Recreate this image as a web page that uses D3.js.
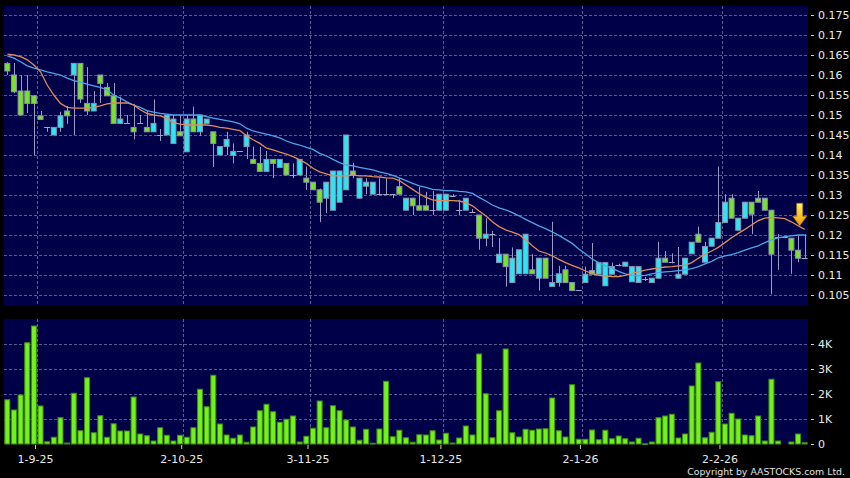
<!DOCTYPE html>
<html><head><meta charset="utf-8">
<script src="https://cdn.jsdelivr.net/npm/d3@7"></script>
<style>html,body{margin:0;padding:0;background:#000;}svg{display:block;}text{font-family:"DejaVu Sans",sans-serif;}</style>
</head><body><svg id="c" width="850" height="478"></svg>
<script>
const openP = [.1629,.1600,.1560,.1560,.1548,.1498,.1470,.1450,.1469,.1510,
 .1600,.1629,.1529,.1510,.1600,.1569,.1548,.1479,.1479,.1469,
 .1479,.1469,.1458,.1450,.1450,.1429,.1458,.1408,.1490,.1458,
 .1479,.1458,.1400,.1421,.1399,.1409,.1421,.1389,.1379,.1359,
 .1389,.1369,.1379,.1350,.1350,.1342,.1332,.1313,.1292,.1262,
 .1282,.1313,.1360,.1292,.1322,.1302,.1302,.1302,.1302,.1321,
 .1262,.1292,.1273,.1273,.1262,.1262,.1262,.1297,.1262,.1262,
 .1258,.1250,.1192,.1202,.1131,.1152,.1081,.1103,.1103,.1113,
 .1092,.1142,.1071,.1081,.1113,.1081,.1063,.1081,.1111,.1102,
 .1073,.1102,.1125,.1122,.1083,.1081,.1089,.1081,.1092,.1142,
 .1132,.1092,.1102,.1153,.1202,.1132,.1172,.1192,.1231,.1292,
 .1212,.1242,.1282,.1292,.1292,.1262,.1195,.1195,.1192,.1162,
 .1142];
const highP = [.1632,.1630,.1600,.1600,.1550,.1510,.1470,.1469,.1508,.1523,
 .1629,.1629,.1620,.1560,.1600,.1580,.1580,.1546,.1500,.1528,
 .1500,.1510,.1539,.1465,.1500,.1500,.1500,.1500,.1521,.1500,
 .1490,.1458,.1421,.1458,.1429,.1409,.1458,.1421,.1420,.1410,
 .1389,.1389,.1379,.1379,.1389,.1371,.1332,.1316,.1332,.1360,
 .1360,.1450,.1380,.1342,.1342,.1332,.1342,.1342,.1302,.1342,
 .1292,.1292,.1320,.1308,.1310,.1302,.1302,.1302,.1288,.1292,
 .1265,.1250,.1242,.1210,.1192,.1152,.1169,.1163,.1202,.1152,
 .1142,.1142,.1233,.1123,.1123,.1081,.1063,.1121,.1180,.1131,
 .1131,.1131,.1128,.1132,.1121,.1121,.1095,.1092,.1183,.1160,
 .1154,.1170,.1142,.1182,.1221,.1183,.1192,.1371,.1302,.1302,
 .1242,.1282,.1282,.1310,.1292,.1262,.1202,.1195,.1192,.1198,
 .1202];
const lowP = [.1600,.1555,.1500,.1505,.1400,.1489,.1458,.1450,.1458,.1478,
 .1450,.1530,.1500,.1510,.1530,.1548,.1479,.1479,.1479,.1439,
 .1479,.1458,.1458,.1435,.1450,.1429,.1448,.1408,.1458,.1448,
 .1479,.1370,.1400,.1400,.1379,.1409,.1390,.1379,.1359,.1359,
 .1342,.1369,.1350,.1342,.1350,.1313,.1313,.1232,.1255,.1262,
 .1282,.1313,.1342,.1292,.1302,.1302,.1302,.1302,.1292,.1302,
 .1262,.1250,.1262,.1262,.1250,.1262,.1262,.1295,.1250,.1262,
 .1255,.1163,.1172,.1170,.1131,.1071,.1081,.1103,.1103,.1103,
 .1061,.1092,.1071,.1071,.1081,.1060,.1063,.1081,.1102,.1102,
 .1073,.1102,.1122,.1122,.1083,.1081,.1085,.1081,.1092,.1132,
 .1129,.1092,.1102,.1153,.1182,.1132,.1172,.1192,.1231,.1242,
 .1212,.1242,.1202,.1282,.1262,.1052,.1113,.1195,.1103,.1132,
 .1142];
const closeP = [.1610,.1558,.1500,.1529,.1529,.1489,.1470,.1469,.1498,.1498,
 .1629,.1540,.1510,.1529,.1579,.1548,.1479,.1490,.1479,.1458,
 .1479,.1458,.1479,.1450,.1500,.1490,.1448,.1490,.1458,.1500,
 .1490,.1429,.1421,.1439,.1409,.1409,.1450,.1379,.1359,.1389,
 .1379,.1389,.1350,.1350,.1389,.1332,.1313,.1282,.1332,.1360,
 .1360,.1450,.1350,.1342,.1332,.1332,.1302,.1302,.1302,.1302,
 .1292,.1273,.1262,.1262,.1262,.1302,.1302,.1297,.1262,.1292,
 .1258,.1192,.1202,.1202,.1152,.1121,.1142,.1163,.1202,.1103,
 .1142,.1092,.1081,.1103,.1081,.1061,.1063,.1102,.1102,.1131,
 .1131,.1121,.1125,.1132,.1121,.1121,.1089,.1092,.1142,.1132,
 .1132,.1102,.1142,.1182,.1182,.1171,.1192,.1231,.1282,.1242,
 .1242,.1282,.1252,.1282,.1262,.1152,.1195,.1195,.1162,.1142,
 .1142];
const volumeK = [1.77,1.36,1.96,4.05,4.72,1.52,0.09,0.27,1.05,0.04,
 2.03,0.53,2.65,0.45,1.13,0.27,0.81,0.52,0.52,1.88,
 0.40,0.33,0.12,0.65,0.35,0.12,0.35,0.27,0.65,2.19,
 1.49,2.75,0.80,0.36,0.23,0.36,0.07,0.68,1.33,1.59,
 1.29,0.87,0.99,1.12,0.08,0.31,0.63,1.72,0.65,1.53,
 1.33,0.96,0.68,0.15,0.59,0.03,0.60,2.51,0.29,0.55,
 0.25,0.07,0.37,0.36,0.53,0.16,0.43,0.04,0.24,0.72,
 0.36,3.60,2.01,0.25,1.33,3.80,0.45,0.28,0.59,0.55,
 0.60,0.61,1.84,0.53,0.28,2.37,0.19,0.19,0.56,0.17,
 0.55,0.21,0.32,0.21,0.08,0.23,0.01,0.08,1.05,1.12,
 1.19,0.24,0.40,2.32,3.24,0.25,0.47,2.49,0.80,1.23,
 1.00,0.36,0.33,1.12,0.12,2.59,0.12,0,0.08,0.40,
 0.05];
const ma10 = [.1652,.1650,.1646,.1638,.1625,.1608,.1575,.1550,.1529,.1519,
 .1517,.1517,.1517,.1519,.1523,.1528,.1530,.1530,.1530,.1525,
 .1513,.1504,.1500,.1498,.1492,.1481,.1477,.1475,.1475,.1475,
 .1475,.1473,.1469,.1467,.1464,.1461,.1448,.1438,.1429,.1417,
 .1413,.1407,.1402,.1396,.1388,.1379,.1367,.1358,.1353,.1348,
 .1348,.1348,.1350,.1348,.1348,.1346,.1345,.1343,.1342,.1336,
 .1325,.1314,.1303,.1294,.1288,.1286,.1286,.1286,.1285,.1281,
 .1273,.1260,.1248,.1233,.1221,.1213,.1207,.1201,.1188,.1173,
 .1160,.1155,.1148,.1139,.1131,.1124,.1118,.1110,.1104,.1099,
 .1097,.1096,.1096,.1099,.1104,.1108,.1112,.1115,.1118,.1120,
 .1121,.1123,.1124,.1131,.1142,.1152,.1160,.1169,.1181,.1193,
 .1204,.1214,.1225,.1236,.1242,.1244,.1243,.1241,.1233,.1223,
 .1214];
const ma20 = [.1648,.1642,.1633,.1623,.1617,.1613,.1608,.1604,.1600,.1592,
 .1586,.1582,.1577,.1573,.1569,.1563,.1550,.1542,.1533,.1525,
 .1519,.1511,.1507,.1504,.1502,.1500,.1500,.1500,.1500,.1500,
 .1496,.1492,.1489,.1486,.1483,.1478,.1467,.1460,.1456,.1452,
 .1448,.1443,.1435,.1429,.1425,.1419,.1414,.1404,.1398,.1389,
 .1381,.1375,.1373,.1369,.1366,.1363,.1358,.1354,.1349,.1343,
 .1336,.1329,.1323,.1319,.1314,.1313,.1311,.1311,.1309,.1308,
 .1304,.1294,.1285,.1275,.1268,.1263,.1256,.1248,.1239,.1231,
 .1223,.1216,.1208,.1199,.1189,.1179,.1165,.1153,.1140,.1131,
 .1123,.1117,.1109,.1103,.1099,.1098,.1099,.1103,.1106,.1108,
 .1109,.1111,.1113,.1116,.1121,.1128,.1134,.1143,.1148,.1151,
 .1156,.1162,.1168,.1173,.1181,.1188,.1193,.1196,.1198,.1200,
 .1200];
const priceTicks = [0.105,0.11,0.115,0.12,0.125,0.13,0.135,0.14,0.145,0.15,0.155,0.16,0.165,0.17,0.175];
const volTicks = [0,1000,2000,3000,4000];
const volTickLabels = ["0","1K","2K","3K","4K"];
const dateTickIdx = [4,26,45,65,86,107];
const dateTickLabels = ["1-9-25","2-10-25","3-11-25","1-12-25","2-1-26","2-2-26"];
const markerIdx = 119;

const N = closeP.length;
const svg = d3.select('#c');
const bg = "#000048", gridC = "#5a5a90";
const PL = 4, PR = 808, PT = 6, PB = 306, VT = 319, VB = 444;

const x = d3.scaleBand().domain(d3.range(N)).range([PL, PR]).paddingInner(0.1).paddingOuter(0.05);
const cx = i => x(i) + x.bandwidth()/2;
const gx = i => x(i) + x.bandwidth() + (x.step()-x.bandwidth())/2;
const y = d3.scaleLinear().domain([0.10225, 0.17725]).range([PB, PT]);
const yv = d3.scaleLinear().domain([0, 5000]).range([VB, VT]);

svg.append('rect').attr('width',850).attr('height',478).attr('fill','#000');
svg.append('rect').attr('x',PL).attr('y',PT).attr('width',PR-PL).attr('height',PB-PT).attr('fill',bg);
svg.append('rect').attr('x',PL).attr('y',VT).attr('width',PR-PL).attr('height',VB-VT).attr('fill',bg);

const defs = svg.append('defs');
defs.append('clipPath').attr('id','cp').append('rect').attr('x',PL).attr('y',PT).attr('width',PR-PL).attr('height',PB-PT);
const grad = defs.append('linearGradient').attr('id','ag').attr('x1',0).attr('x2',0).attr('y1',0).attr('y2',1);
grad.append('stop').attr('offset','0%').attr('stop-color','#fff46a');
grad.append('stop').attr('offset','100%').attr('stop-color','#f09a00');

// grids
const grid = svg.append('g').attr('stroke',gridC).attr('stroke-width',1).attr('stroke-dasharray','3,2').attr('shape-rendering','crispEdges');
grid.selectAll('.hp').data(priceTicks).join('line').attr('x1',PL).attr('x2',PR).attr('y1',d=>Math.round(y(d))+0.5).attr('y2',d=>Math.round(y(d))+0.5);
grid.selectAll('.hv').data(volTicks.slice(1)).join('line').attr('x1',PL).attr('x2',PR).attr('y1',d=>Math.round(yv(d))+0.5).attr('y2',d=>Math.round(yv(d))+0.5);
grid.selectAll('.vp').data(dateTickIdx).join('line').attr('x1',d=>Math.round(gx(d))+0.5).attr('x2',d=>Math.round(gx(d))+0.5).attr('y1',PT).attr('y2',PB);
grid.selectAll('.vv').data(dateTickIdx).join('line').attr('x1',d=>Math.round(gx(d))+0.5).attr('x2',d=>Math.round(gx(d))+0.5).attr('y1',VT).attr('y2',VB);

// volume bars
svg.append('g').selectAll('rect').data(volumeK.map((v,i)=>({v,i})).filter(d=>d.v>0)).join('rect')
  .attr('x',d=>x(d.i)+0.5).attr('width',x.bandwidth()-1)
  .attr('y',d=>yv(d.v*1000)).attr('height',d=>Math.max(0.8, VB-yv(d.v*1000)))
  .attr('fill','#74f01c').attr('stroke','#3f8f12').attr('stroke-width',1);

// price
const pg = svg.append('g').attr('clip-path','url(#cp)');
const idx = d3.range(N);
pg.append('g').attr('stroke','#9a9ac4').attr('stroke-width',1).selectAll('line').data(idx).join('line')
  .attr('x1',i=>Math.round(cx(i))+0.5).attr('x2',i=>Math.round(cx(i))+0.5)
  .attr('y1',i=>y(highP[i])).attr('y2',i=>y(lowP[i]));
const bodies = idx.filter(i=>Math.abs(closeP[i]-openP[i])>0.00005);
const dojis = idx.filter(i=>Math.abs(closeP[i]-openP[i])<=0.00005);
pg.append('g').selectAll('line').data(dojis).join('line')
  .attr('x1',i=>x(i)).attr('x2',i=>x(i)+x.bandwidth())
  .attr('y1',i=>Math.round(y(closeP[i]))+0.5).attr('y2',i=>Math.round(y(closeP[i]))+0.5)
  .attr('stroke','#a4a4c8').attr('stroke-width',1);
pg.append('g').selectAll('rect').data(bodies).join('rect')
  .attr('x',i=>x(i)+0.5).attr('width',x.bandwidth()-1)
  .attr('y',i=>y(Math.max(openP[i],closeP[i])))
  .attr('height',i=>Math.abs(y(openP[i])-y(closeP[i])))
  .attr('fill',i=>closeP[i]>openP[i] ? '#2ee6f2' : '#7ae22a')
  .attr('stroke','#8a94b0').attr('stroke-width',1);

const ln = d3.line().x((d,i)=>cx(i)).y(d=>y(d));
pg.append('path').attr('d',ln(ma20)).attr('fill','none').attr('stroke','#4aa6e6').attr('stroke-width',1.3);
pg.append('path').attr('d',ln(ma10)).attr('fill','none').attr('stroke','#e08a5c').attr('stroke-width',1.3);

// marker arrow
const tx = cx(markerIdx) + x.step()/4, ty = y(ma10[markerIdx]);
const ap = d3.path();
ap.moveTo(tx-3, ty-22.5); ap.lineTo(tx+3, ty-22.5); ap.lineTo(tx+3, ty-9.5); ap.lineTo(tx+7, ty-9.5);
ap.lineTo(tx, ty); ap.lineTo(tx-7, ty-9.5); ap.lineTo(tx-3, ty-9.5); ap.closePath();
svg.append('path').attr('d',ap.toString()).attr('fill','url(#ag)').attr('stroke','#b07800').attr('stroke-width',0.7);

// axes
const styleAxis = g => { g.select('.domain').remove(); g.selectAll('line').attr('stroke','#d0d0d0'); g.selectAll('text').attr('fill','#e8e8e8').attr('font-size',11).attr('font-family','"DejaVu Sans",sans-serif'); };
svg.append('g').attr('transform','translate(811,0)')
  .call(d3.axisRight(y).tickValues(priceTicks).tickSize(3).tickPadding(4).tickFormat(d=>String(+d.toFixed(3))))
  .call(styleAxis);
svg.append('g').attr('transform','translate(811,0)')
  .call(d3.axisRight(yv).tickValues(volTicks).tickSize(3).tickPadding(4).tickFormat((d,i)=>volTickLabels[i]))
  .call(styleAxis);
svg.append('g').attr('transform',`translate(${x.step()*0.25},${VB+1})`)
  .call(d3.axisBottom(x).tickValues(dateTickIdx).tickSize(4).tickPadding(6).tickFormat((d,i)=>dateTickLabels[i]))
  .call(styleAxis);

svg.append('text').attr('x',845).attr('y',475).attr('text-anchor','end').attr('fill','#e0e0e0')
  .attr('font-size',9.4).text('Copyright by AASTOCKS.com Ltd.');
</script></body></html>
